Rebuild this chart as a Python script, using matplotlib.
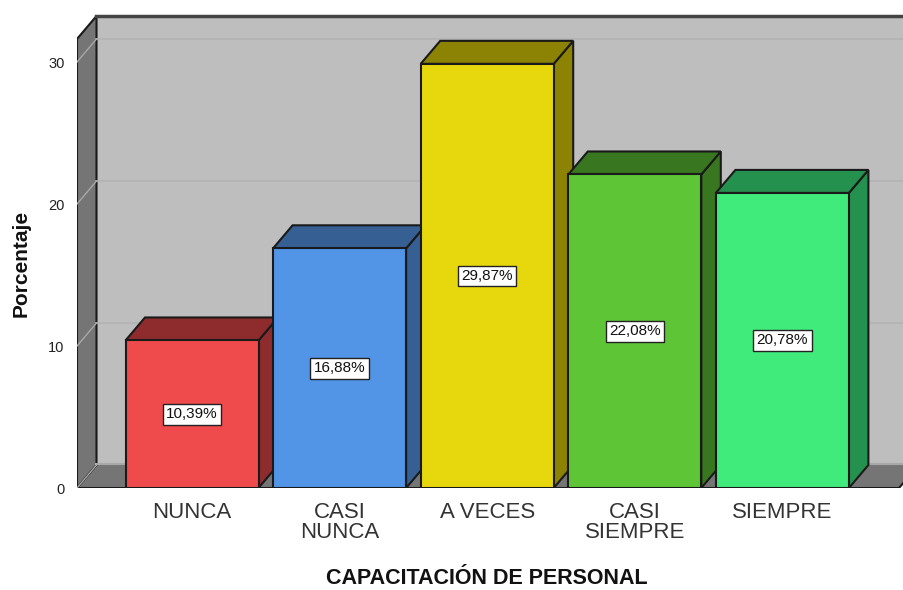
import matplotlib
matplotlib.use("Agg")
import matplotlib.pyplot as plt

categories = ["NUNCA", "CASI\nNUNCA", "A VECES", "CASI\nSIEMPRE", "SIEMPRE"]
values = [10.39, 16.88, 29.87, 22.08, 20.78]
yticks = [0, 10, 20, 30]
front_colors = ["#EF4B4C", "#5294E6", "#E6D80C", "#5DC536", "#40EB7C"]
dark_colors = ["#8E2C2D", "#365F94", "#8C8204", "#38761F", "#25914F"]

plt.rcParams['font.family'] = ['Liberation Sans', 'DejaVu Sans']

W, H = 904, 590
fig = plt.figure(figsize=(W / 100, H / 100), dpi=100)
ax = fig.add_axes([77 / W, (H - 488) / H, (W - 77) / W, (488 - 16) / H])

# scale: 147.6 px per category, 14.2 px per unit
xmin = (77 - 192) / 147.6
xmax = (904 - 192) / 147.6
ymax = (488 - 16) / 14.2
ax.set_xlim(xmin, xmax)
ax.set_ylim(0, ymax)

dx = 19.5 / 147.6
dy = 23 / 14.2
wall_top = ymax - dy
floor_right = (899 - 192) / 147.6
edge = "#1a1a1a"

# back wall, floor, left wall
ax.fill([xmin + dx, xmax + dx, xmax + dx, xmin + dx],
        [dy, dy, ymax, ymax], color="#BEBEBE", lw=0, zorder=1)
ax.fill([xmin, floor_right, floor_right + dx, xmin + dx],
        [0, 0, dy, dy], facecolor="#757575", edgecolor="none", zorder=2)
ax.fill([xmin, xmin + dx, xmin + dx, xmin],
        [0, dy, ymax, wall_top], facecolor="#757575", edgecolor=edge, lw=1.5, zorder=2)
ax.plot([xmin + dx, xmax], [ymax, ymax], color="#444444", lw=2.5, zorder=3, clip_on=False)
ax.plot([xmin, floor_right, floor_right + dx], [0, 0, dy], color=edge, lw=1.5, zorder=3, clip_on=True)
ax.plot([xmin + dx, xmax], [dy + 0.1, dy + 0.1], color="#A8A8A8", lw=1.5, zorder=2)

for t in yticks[1:]:
    ax.plot([xmin + dx, xmax], [t + dy, t + dy], color="#B2B2B2", lw=1.2, zorder=2)
    ax.plot([xmin, xmin + dx], [t, t + dy], color="#A8A8A8", lw=1, zorder=3)
ax.plot([xmin, xmin + dx], [0, dy], color="#A8A8A8", lw=1, zorder=3)

width = 133 / 147.6
for i, (v, fc, dc) in enumerate(zip(values, front_colors, dark_colors)):
    z = 5 + i
    left, right = i - width / 2, i + width / 2
    ax.fill([right, right + dx, right + dx, right], [0, dy, v + dy, v],
            facecolor=dc, edgecolor=edge, lw=1.5, zorder=z)
    ax.fill([left, right, right + dx, left + dx], [v, v, v + dy, v + dy],
            facecolor=dc, edgecolor=edge, lw=1.5, zorder=z)
    ax.bar(i, v, width=width, color=fc, edgecolor=edge, lw=1.5, zorder=z + 0.5)
    ax.text(i, v / 2, ("%.2f%%" % v).replace(".", ","), ha="center", va="center",
            fontsize=11, color="#111111", zorder=20,
            bbox=dict(boxstyle="square,pad=0.22", fc="white", ec="#222222", lw=1))

for s in ax.spines.values():
    s.set_visible(False)
ax.set_xticks(range(len(categories)))
ax.set_xticklabels(categories, fontsize=16, color="#333333", linespacing=0.95)
ax.set_yticks(yticks)
ax.set_yticklabels([str(t) for t in yticks], fontsize=10.5, color="#222222")
ax.tick_params(axis="both", length=0)
ax.tick_params(axis="x", pad=10)
ax.tick_params(axis="y", pad=9)

fig.text(487 / W, 1 - 579 / H, "CAPACITACIÓN DE PERSONAL", fontsize=15.5, fontweight="bold",
         ha="center", va="center", color="#111111")
fig.text(21 / W, 1 - 263 / H, "Porcentaje", fontsize=15, fontweight="bold", rotation=90,
         ha="center", va="center", color="#111111")

fig.savefig("out.png", dpi=100)
